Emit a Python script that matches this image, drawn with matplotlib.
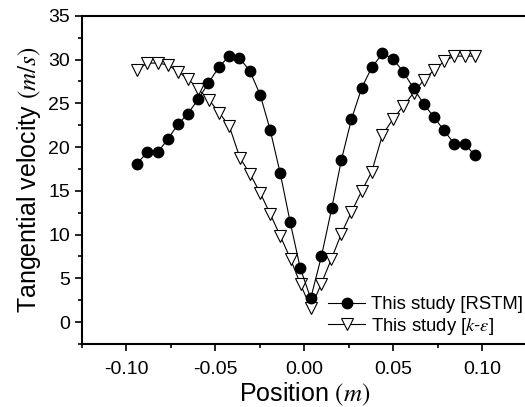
import matplotlib.pyplot as plt
from matplotlib.ticker import MultipleLocator

plt.rcParams['font.family'] = ['Liberation Sans', 'DejaVu Sans']
plt.rcParams['mathtext.fontset'] = 'stix'

# RSTM (filled circles)
x_rstm = [-0.0941, -0.0881, -0.0824, -0.0766, -0.0710, -0.0654, -0.0595, -0.0539,
          -0.0481, -0.0423, -0.0364, -0.0306, -0.0248, -0.0192, -0.0135, -0.0079,
          -0.0023, 0.0036, 0.0096, 0.0154, 0.0208, 0.0265, 0.0323, 0.0379,
          0.0439, 0.0498, 0.0556, 0.0614, 0.0672, 0.0729, 0.0785, 0.0841,
          0.0900, 0.0956]
v_rstm = [18.1, 19.4, 19.4, 20.9, 22.6, 23.8, 25.5, 27.3,
          29.1, 30.4, 30.2, 28.7, 26.0, 22.0, 17.0, 11.4,
          6.2, 2.7, 7.5, 13.0, 18.5, 23.2, 26.8, 29.1,
          30.7, 30.1, 28.6, 26.7, 24.9, 23.4, 21.9, 20.4,
          20.4, 19.1]

# k-epsilon (open down triangles)
x_ke = [-0.0941, -0.0881, -0.0824, -0.0766, -0.0708, -0.0652, -0.0595, -0.0535,
        -0.0477, -0.0421, -0.0362, -0.0304, -0.0246, -0.0190, -0.0134, -0.0077,
        -0.0021, 0.0037, 0.0096, 0.0152, 0.0208, 0.0265, 0.0323, 0.0379,
        0.0439, 0.0498, 0.0556, 0.0614, 0.0672, 0.0729, 0.0785, 0.0841,
        0.0900, 0.0956]
v_ke = [28.8, 29.6, 29.6, 29.4, 28.6, 27.8, 26.6, 25.4,
        23.9, 22.4, 18.8, 16.9, 14.7, 12.3, 9.8, 7.2,
        4.3, 1.6, 4.4, 7.2, 10.1, 12.6, 15.0, 17.2,
        21.4, 23.2, 24.7, 26.2, 27.7, 28.8, 29.8, 30.4,
        30.4, 30.4]

fig = plt.figure(figsize=(5.25, 4.07), dpi=100)
ax = fig.add_axes([0.1556, 0.155, 0.848, 0.806])

ax.plot(x_rstm, v_rstm, color='black', lw=0.8, marker='o', ms=7.5,
        mfc='black', mec='black', label='This study [RSTM]', zorder=3)
ax.plot(x_ke, v_ke, color='black', lw=0.8, marker='v', ms=9,
        mfc='white', mec='black', mew=0.8, label='This study [$k$-$\\varepsilon$]', zorder=2)

ax.set_xlim(-0.125, 0.125)
ax.set_ylim(-2.5, 35)
ax.xaxis.set_major_locator(MultipleLocator(0.05))
ax.xaxis.set_minor_locator(MultipleLocator(0.025))
ax.yaxis.set_major_locator(MultipleLocator(5))
ax.yaxis.set_minor_locator(MultipleLocator(2.5))
ax.xaxis.set_major_formatter(plt.FuncFormatter(lambda v, p: f"{v:.2f}"))

for s in ax.spines.values():
    s.set_linewidth(1.5)
ax.tick_params(which='major', direction='out', length=5, width=1.2, labelsize=14)
ax.tick_params(which='minor', direction='out', length=3, width=1.2)
ax.tick_params(axis='x', which='major', pad=7)

ax.set_xlabel('Position $(m)$', fontsize=18, labelpad=2)
ax.set_ylabel('Tangential velocity $(m/s)$', fontsize=18, labelpad=4)

ax.legend(loc='lower right', frameon=False, fontsize=13.3, handlelength=2.0,
          handletextpad=0.3, labelspacing=0.15, borderaxespad=0.3,
          bbox_to_anchor=(1.02, -0.018))

fig.savefig('out.png', dpi=100)
